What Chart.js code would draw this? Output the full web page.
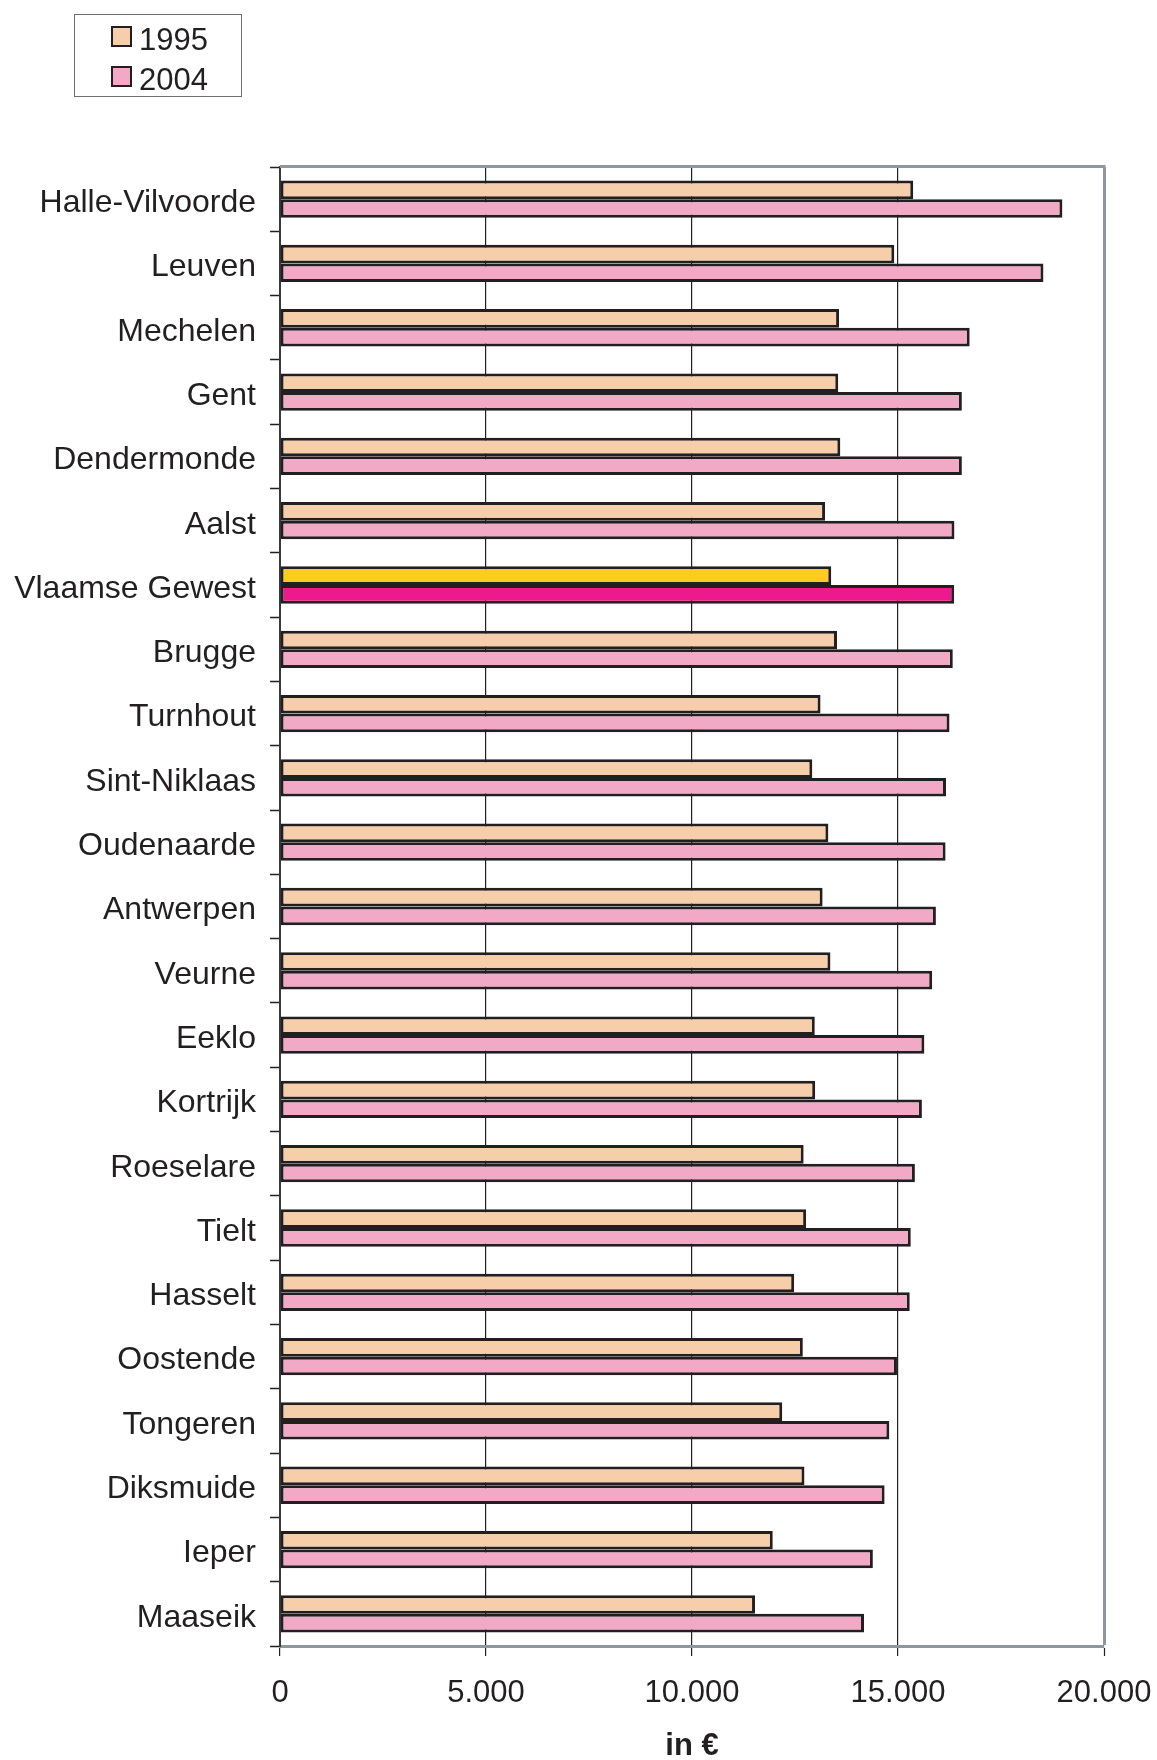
<!DOCTYPE html>
<html>
<head>
<meta charset="utf-8">
<script src="https://cdn.jsdelivr.net/npm/chart.js@4/dist/chart.umd.min.js"></script>
<style>
  html, body { margin: 0; padding: 0; background: #ffffff; }
  #wrap { position: relative; width: 1157px; height: 1760px; }
  #c { position: absolute; left: 0; top: 0; }
  #legend {
    position: absolute; left: 74px; top: 14px; width: 166px; height: 81px;
    border: 1px solid #6d6e70; background: #fff;
    font-family: "Liberation Sans", Arial, sans-serif; font-size: 31px; color: #231F20;
  }
  .item { position: absolute; left: 36px; height: 36px; line-height: 36px; }
  .sw { position: absolute; left: 0; top: 7px; width: 17px; height: 17px; border: 2px solid #231F20; }
  .lbl { position: absolute; left: 28px; top: 3px; white-space: nowrap; }
</style>
</head>
<body>
<div id="wrap">
  <canvas id="c" width="1157" height="1760"></canvas>
  <div id="legend"></div>
</div>
<script>
const categories = [
  "Halle-Vilvoorde", "Leuven", "Mechelen", "Gent", "Dendermonde", "Aalst",
  "Vlaamse Gewest", "Brugge", "Turnhout", "Sint-Niklaas", "Oudenaarde",
  "Antwerpen", "Veurne", "Eeklo", "Kortrijk", "Roeselare", "Tielt", "Hasselt",
  "Oostende", "Tongeren", "Diksmuide", "Ieper", "Maaseik"
];
const seriesNames = ["1995", "2004"];
const values1995 = [
  15370, 14910, 13570, 13550, 13600, 13230,
  13380, 13520, 13120, 12920, 13310,
  13170, 13360, 12980, 12990, 12710, 12770, 12480,
  12690, 12190, 12730, 11960, 11530
];
const values2004 = [
  18990, 18530, 16740, 16550, 16550, 16370,
  16365, 16330, 16250, 16165, 16155,
  15920, 15830, 15640, 15580, 15410, 15310, 15285,
  14975, 14790, 14675, 14390, 14175
];
const tickLabels = ["0", "5.000", "10.000", "15.000", "20.000"];
const highlightCategory = "Vlaamse Gewest";
const axisTitle = "in €";

const FONT = '"Liberation Sans", Arial, sans-serif';
const DARK = "#231F20";
const GRAY = "#8d979d";
const col1995 = "#F6CFAA", col2004 = "#F2A9C6";
const hi1995 = "#FDCB22", hi2004 = "#EC1A8C";

// HTML legend
const legendEl = document.getElementById("legend");
[[seriesNames[0], col1995], [seriesNames[1], col2004]].forEach((s, i) => {
  const it = document.createElement("div");
  it.className = "item";
  it.style.top = (4 + i * 40) + "px";
  it.innerHTML = '<span class="sw" style="background:' + s[1] + '"></span><span class="lbl">' + s[0] + '</span>';
  legendEl.appendChild(it);
});

const topBorder = {
  id: "topBorder",
  afterDraw(chart) {
    const a = chart.chartArea, ctx = chart.ctx;
    ctx.save();
    ctx.strokeStyle = GRAY;
    ctx.lineWidth = 3;
    ctx.beginPath();
    ctx.moveTo(a.left, a.top - 0.5);
    ctx.lineTo(a.right + 1.5, a.top - 0.5);
    ctx.stroke();
    ctx.restore();
  }
};

new Chart(document.getElementById("c"), {
  type: "bar",
  data: {
    labels: categories,
    datasets: [
      {
        label: seriesNames[0],
        data: values1995,
        backgroundColor: categories.map(c => c === highlightCategory ? hi1995 : col1995),
        borderColor: DARK, borderWidth: 3, borderSkipped: false,
        categoryPercentage: 0.58, barPercentage: 1.0
      },
      {
        label: seriesNames[1],
        data: values2004,
        backgroundColor: categories.map(c => c === highlightCategory ? hi2004 : col2004),
        borderColor: DARK, borderWidth: 3, borderSkipped: false,
        categoryPercentage: 0.58, barPercentage: 1.0
      }
    ]
  },
  options: {
    indexAxis: "y",
    responsive: false,
    devicePixelRatio: 1,
    animation: false,
    layout: { padding: { top: 167, right: 53, bottom: 0, left: 0 } },
    plugins: { legend: { display: false }, tooltip: { enabled: false } },
    scales: {
      x: {
        type: "linear", min: 0, max: 20000,
        afterFit(scale) { scale.height = 114; scale.paddingRight = 0; scale.paddingLeft = 0; },
        ticks: {
          stepSize: 5000, color: DARK, padding: 19,
          font: { family: FONT, size: 31 },
          callback: (v) => tickLabels[Math.round(v / 5000)]
        },
        grid: {
          color: (ctx) => ctx.tick && ctx.tick.value === 20000 ? GRAY : (ctx.tick && ctx.tick.value === 0 ? "rgba(0,0,0,0)" : DARK),
          lineWidth: (ctx) => ctx.tick && ctx.tick.value === 20000 ? 3 : 1.2,
          tickColor: DARK, tickLength: 10, tickWidth: 1.2
        },
        border: { display: true, color: GRAY, width: 3 },
        title: {
          display: true, text: axisTitle, color: DARK,
          font: { family: FONT, size: 31, weight: "bold", lineHeight: 1.0 },
          padding: { top: 0, bottom: -2 }
        }
      },
      y: {
        afterFit(scale) { scale.width = 280; },
        ticks: { color: DARK, padding: 14, labelOffset: 4, font: { family: FONT, size: 32 } },
        grid: { offset: true, drawOnChartArea: false, tickLength: 10, tickColor: DARK, tickWidth: 1.5 },
        border: { display: true, color: "#3a3a3c", width: 2 }
      }
    }
  },
  plugins: [topBorder]
});
</script>
</body>
</html>
